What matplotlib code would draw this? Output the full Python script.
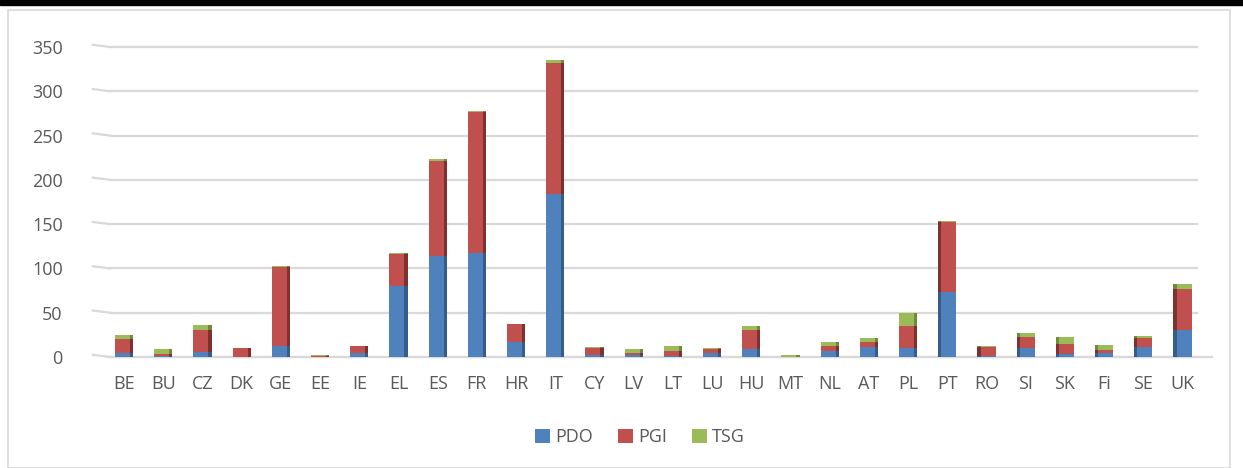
import numpy as np
import matplotlib.pyplot as plt
from matplotlib.patches import Rectangle

# EU quality schemes per member state
countries = ['BE', 'BU', 'CZ', 'DK', 'GE', 'EE', 'IE', 'EL', 'ES', 'FR', 'HR', 'IT',
             'CY', 'LV', 'LT', 'LU', 'HU', 'MT', 'NL', 'AT', 'PL', 'PT', 'RO', 'SI',
             'SK', 'Fi', 'SE', 'UK']
pdo = [4, 1, 6, 0, 12, 0, 4, 80, 114, 117, 17, 184,
       2, 2, 1, 4, 9, 0, 7, 11, 10, 73, 1, 10,
       3, 5, 11, 30]
pgi = [16, 2, 25, 10, 90, 1, 8, 36, 107, 160, 20, 148,
       8, 3, 6, 5, 22, 0, 5, 6, 25, 79, 10, 13,
       12, 3, 10, 47]
tsg = [5, 6, 5, 0, 1, 1, 0, 1, 3, 1, 0, 3,
       1, 4, 5, 1, 4, 2, 5, 4, 15, 1, 1, 4,
       8, 5, 3, 5]

colors = {'PDO': '#4f81bd', 'PGI': '#c0504d', 'TSG': '#9bbb59'}
dark = {'PDO': '#2c4d75', 'PGI': '#632523', 'TSG': '#5f7530'}

plt.rcParams['font.family'] = ['Open Sans', 'DejaVu Sans']
txt = '#595959'

fig = plt.figure(figsize=(12.43, 4.68), dpi=100)
# chart border and black strip on top
fig.patches.append(Rectangle((8 / 1243, 0), 1222 / 1243, 458 / 468, transform=fig.transFigure,
                             fill=False, edgecolor='#d9d9d9', linewidth=1.2))
fig.patches.append(Rectangle((0, 463 / 468), 1, 5 / 468, transform=fig.transFigure,
                             color='black'))

ax = fig.add_axes([110 / 1243, 111 / 468, 1087 / 1243, 310 / 468])

x = np.arange(len(countries))
w = 0.46
side = 0.08
bottom = np.zeros(len(countries))
for name, vals in [('PDO', pdo), ('PGI', pgi), ('TSG', tsg)]:
    vals = np.array(vals)
    ax.bar(x, vals, w, bottom=bottom, color=colors[name], label=name, zorder=3)
    # fake 3D side face: right side for left part, left side for right part
    offs = np.where(x < 21, w / 2 - side / 2, -w / 2 + side / 2)
    ax.bar(x + offs, vals, side, bottom=bottom, color=dark[name], alpha=0.7, zorder=4)
    bottom = bottom + vals

ax.set_xlim(-0.36, 27.37)
ax.set_ylim(0, 350)
ax.set_yticks(range(0, 351, 50))
ax.set_xticks(x)
ax.set_xticklabels(countries)
ax.tick_params(axis='both', length=0, colors=txt, labelsize=13)
ax.tick_params(axis='y', pad=34)
ax.tick_params(axis='x', pad=13)
ax.grid(axis='y', color='#d9d9d9', linewidth=1.6, zorder=0)
for s in ax.spines.values():
    s.set_visible(False)
for ln in ax.get_ygridlines():
    ln.set_clip_on(False)

# slanted perspective stubs at left of gridlines
for yv in range(0, 351, 50):
    ax.plot([-0.8, -0.36], [yv + 2.5, yv], color='#d9d9d9', lw=1.6, clip_on=False, zorder=0)
ax.plot([-0.36, 27.75], [0, 0], color='#d9d9d9', lw=1.6, clip_on=False, zorder=2)

leg = fig.legend(loc='center', bbox_to_anchor=(640 / 1243, 1 - 437 / 468), ncol=3,
                 frameon=False, fontsize=13, handlelength=0.8, handleheight=0.8,
                 handletextpad=0.3, columnspacing=1.4)
for t in leg.get_texts():
    t.set_color(txt)

fig.savefig('out.png', dpi=100)
